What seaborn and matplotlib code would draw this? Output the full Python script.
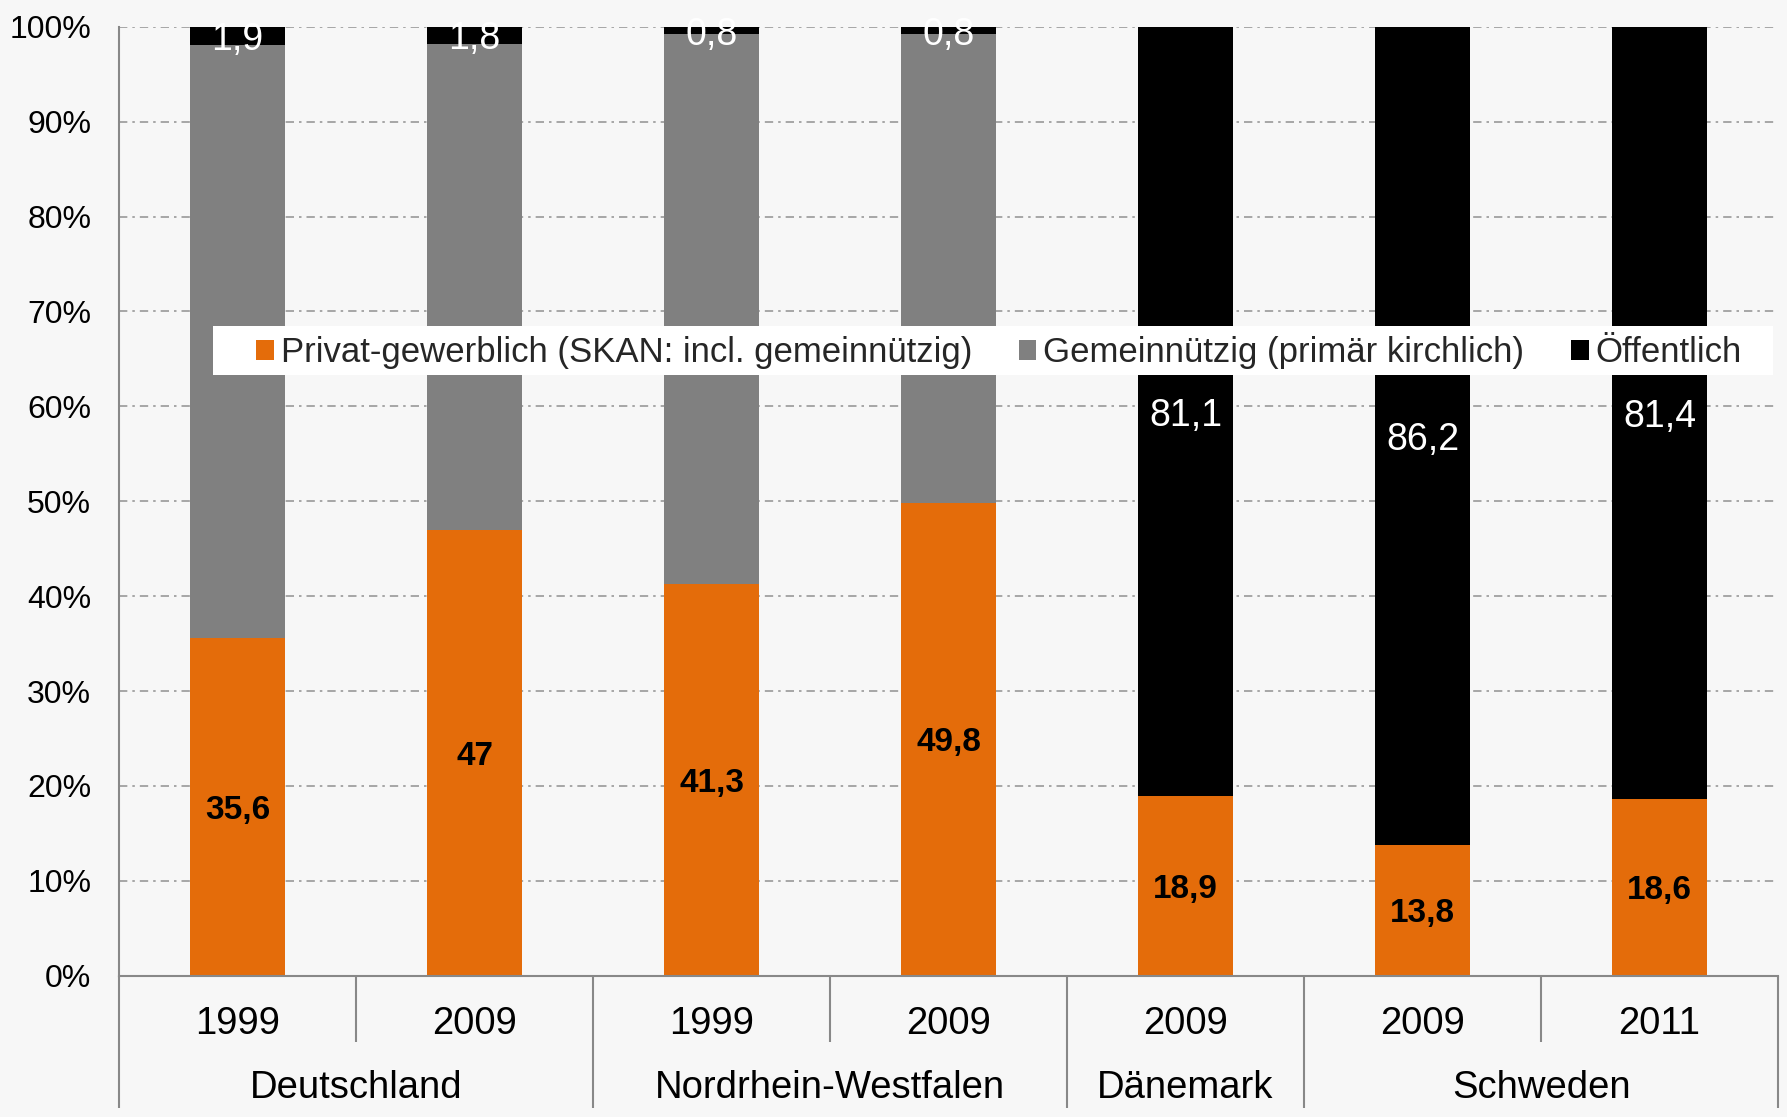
import numpy as np
import pandas as pd
import matplotlib
matplotlib.use("Agg")
import matplotlib.pyplot as plt
from matplotlib.patches import Patch, Rectangle
import seaborn as sns

# Categories
groups = ["Deutschland", "Nordrhein-Westfalen", "Dänemark", "Schweden"]
group_sizes = [2, 2, 1, 2]
years = ["1999", "2009", "1999", "2009", "2009", "2009", "2011"]

# Shares in percent
privat = [35.6, 47.0, 41.3, 49.8, 18.9, 13.8, 18.6]
oeffentlich = [1.9, 1.8, 0.8, 0.8, 81.1, 86.2, 81.4]
gemeinnuetzig = [100 - p - o for p, o in zip(privat, oeffentlich)]

series_names = ["Privat-gewerblich (SKAN: incl. gemeinnützig)",
                "Gemeinnützig (primär kirchlich)",
                "Öffentlich"]
colors = ["#E46C0A", "#808080", "#000000"]
bg = "#F7F7F7"

sns.set_theme(style="white")
plt.rcParams["font.family"] = ["Liberation Sans", "DejaVu Sans"]

keys = [f"{g}|{i}" for i, g in enumerate(
    [g for g, n in zip(groups, group_sizes) for _ in range(n)])]
df = pd.DataFrame({"key": keys, "year": years, "privat": privat,
                   "gemein": gemeinnuetzig, "oeff": oeffentlich})

fig = plt.figure(figsize=(17.87, 11.17), dpi=100, facecolor=bg)
ax = fig.add_axes([0.0666, 0.1265, 0.9284, 0.8495])
ax.set_facecolor(bg)

bottoms = np.zeros(len(df))
for col, color in zip(["privat", "gemein", "oeff"], colors):
    sns.barplot(data=df, x="key", y=col, color=color, width=0.4,
                bottom=bottoms, ax=ax, saturation=1, edgecolor="none",
                linewidth=0, zorder=2)
    bottoms = bottoms + df[col].to_numpy()

ax.set_ylim(0, 100)
ax.set_xlim(-0.5, len(df) - 0.5)
ax.set_yticks(np.arange(0, 101, 10))
ax.set_yticklabels([f"{v}%" for v in range(0, 101, 10)], fontsize=23)
ax.tick_params(axis="y", length=10, width=1.2, color="#888888", pad=10,
               labelcolor="black")
ax.set_xticks([])
ax.set_xlabel("")
ax.set_ylabel("")

# dash-dot gridlines behind the bars
for v in range(10, 101, 10):
    ax.axhline(v, color="#999999", lw=1.2, ls=(0, (5, 3, 1.5, 3)), zorder=1)

for s in ["top", "right"]:
    ax.spines[s].set_visible(False)
for s in ["left", "bottom"]:
    ax.spines[s].set_color("#888888")
    ax.spines[s].set_linewidth(1.5)

# value labels
for i in range(len(df)):
    p = privat[i]
    lbl = f"{p:g}".replace(".", ",")
    ax.text(i, p / 2, lbl, ha="center", va="center_baseline", fontsize=24,
            fontweight="bold", color="black", zorder=3)
    o = oeffentlich[i]
    lbl = f"{o:g}".replace(".", ",")
    ax.text(i, 100 - o / 2, lbl, ha="center", va="center_baseline",
            fontsize=27, color="white", zorder=3)

# two-level category axis
trans = ax.get_xaxis_transform()
y_year = -0.0513
y_group = -0.1186
y_year_line = -0.0698
y_group_line = -0.1398
for i, y in enumerate(years):
    ax.text(i, y_year, y, transform=trans, ha="center", va="center",
            fontsize=27.5, color="black")
bounds = np.cumsum([0] + group_sizes)
for b in range(len(df) + 1):
    is_group = b in bounds
    ax.plot([b - 0.5, b - 0.5], [0, y_group_line if is_group else y_year_line],
            transform=trans, color="#888888", lw=1.5, clip_on=False,
            solid_capstyle="butt")
for g, lo, hi in zip(groups, bounds[:-1], bounds[1:]):
    ax.text((lo + hi - 1) / 2, y_group, g, transform=trans, ha="center",
            va="center", fontsize=27.5, color="black")

# legend on a wide white band
ax.add_patch(Rectangle((0.0567, 0.633), 0.9403, 0.0516, transform=ax.transAxes,
                       facecolor="white", edgecolor="none", zorder=4))
handles = [Patch(facecolor=c, edgecolor="none") for c in colors]
leg = ax.legend(handles, series_names, ncol=3, loc="center",
                bbox_to_anchor=(0.5305, 0.6566), fontsize=25, frameon=False,
                handlelength=0.5, handleheight=0.5,
                handletextpad=0.2, columnspacing=1.35, borderpad=0.2,
                borderaxespad=0)
leg.set_zorder(5)

fig.savefig("out.png", dpi=100, facecolor=bg)
